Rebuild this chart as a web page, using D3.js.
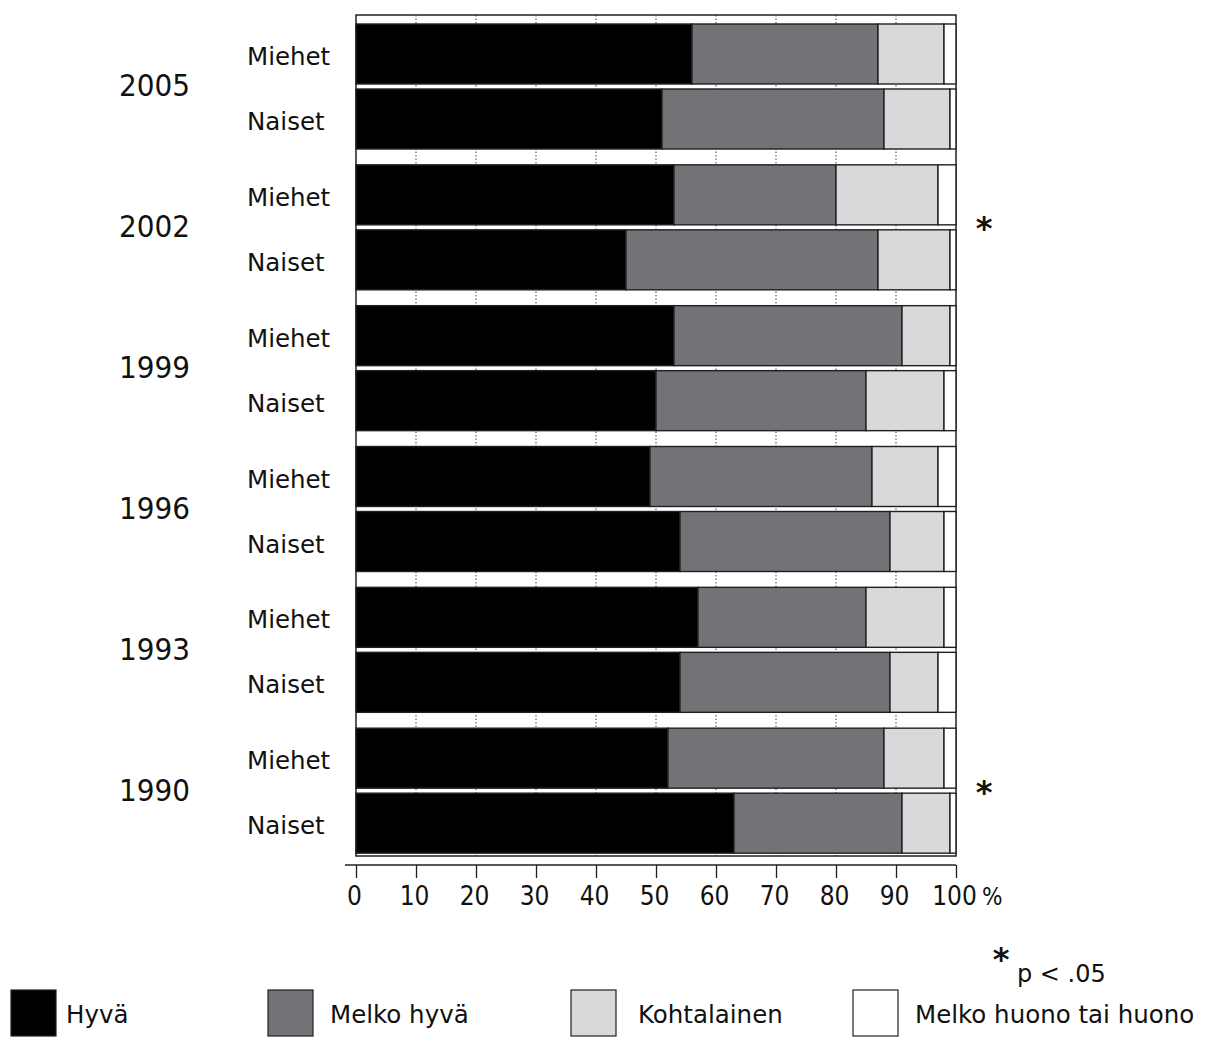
<!DOCTYPE html>
<html>
<head>
<meta charset="utf-8">
<script src="https://cdn.jsdelivr.net/npm/d3@7"></script>
<style>
  html, body { margin: 0; padding: 0; background: #fff; }
  svg { display: block; }
</style>
</head>
<body>
<svg id="chart" width="1210" height="1053"></svg>
<script>
// ---------- data ----------
const years = ["2005", "2002", "1999", "1996", "1993", "1990"];
const sexes = ["Miehet", "Naiset"];
const categories = ["Hyvä", "Melko hyvä", "Kohtalainen", "Melko huono tai huono"];
// values per bar, order: 2005 M, 2005 N, 2002 M, 2002 N, ... 1990 M, 1990 N
const hyva        = [56, 51, 53, 45, 53, 50, 49, 54, 57, 54, 52, 63];
const melkoHyva   = [31, 37, 27, 42, 38, 35, 37, 35, 28, 35, 36, 28];
const kohtalainen = [11, 11, 17, 12,  8, 13, 11,  9, 13,  8, 10,  8];
const huono       = [ 2,  1,  3,  1,  1,  2,  3,  2,  2,  3,  2,  1];
const significantYears = ["2002", "1990"];
const tickValues = [0, 10, 20, 30, 40, 50, 60, 70, 80, 90, 100];
const footnote = "p < .05";

// ---------- table ----------
const rows = [];
years.forEach((yr, i) => sexes.forEach((sx, j) => {
  const k = i * 2 + j;
  rows.push({ year: yr, sex: sx,
    "Hyvä": hyva[k], "Melko hyvä": melkoHyva[k],
    "Kohtalainen": kohtalainen[k], "Melko huono tai huono": huono[k] });
}));

const colors = d3.scaleOrdinal(categories, ["#000000", "#737276", "#d8d9db", "#ffffff"]);
const svg = d3.select("#chart");

const x = d3.scaleLinear([0, 100], [356, 956]);
const yGroup = d3.scaleBand(years, [17, 862]);
const ySex = d3.scaleBand(sexes, [7, 132]).paddingInner(5 / 65);
const frameTop = 15, frameBottom = 856;

// grid
svg.append("g").selectAll("line")
  .data(tickValues.filter(v => v > 0 && v < 100))
  .join("line")
  .attr("x1", d => x(d)).attr("x2", d => x(d))
  .attr("y1", frameTop).attr("y2", frameBottom)
  .attr("stroke", "#444").attr("stroke-width", 1)
  .attr("stroke-dasharray", "1.5,2");

// frame
svg.append("rect")
  .attr("x", x(0)).attr("y", frameTop)
  .attr("width", x(100) - x(0)).attr("height", frameBottom - frameTop)
  .attr("fill", "none").attr("stroke", "#231f20").attr("stroke-width", 1.5);

// stacked bars
const stack = d3.stack().keys(categories)(rows);
svg.append("g").selectAll("g")
  .data(stack).join("g")
  .attr("fill", d => colors(d.key))
  .selectAll("rect")
  .data(d => d).join("rect")
  .attr("x", d => x(d[0]))
  .attr("y", d => yGroup(d.data.year) + ySex(d.data.sex))
  .attr("width", d => x(d[1]) - x(d[0]))
  .attr("height", ySex.bandwidth())
  .attr("stroke", "#231f20").attr("stroke-width", 1.4);

// sex labels
svg.append("g").selectAll("text")
  .data(rows).join("text")
  .attr("x", 247)
  .attr("y", d => yGroup(d.year) + ySex(d.sex) + ySex.bandwidth() / 2 + 11)
  .attr("font-family", "DejaVu Sans").attr("font-size", 24.5)
  .attr("fill", "#111")
  .text(d => d.sex);

// year labels
svg.append("g").selectAll("text")
  .data(years).join("text")
  .attr("x", 119)
  .attr("y", d => yGroup(d) + yGroup.bandwidth() / 2 + 9)
  .attr("font-family", "DejaVu Sans Condensed").attr("font-size", 31)
  .attr("fill", "#111")
  .text(d => d);

// significance asterisks
svg.append("g").selectAll("text")
  .data(significantYears).join("text")
  .attr("x", 984)
  .attr("y", d => yGroup(d) + yGroup.bandwidth() / 2 + 11)
  .attr("text-anchor", "middle")
  .attr("font-family", "DejaVu Sans").attr("font-weight", "bold").attr("font-size", 32)
  .attr("fill", "#111")
  .text("*");

// x axis
const axisY = 865;
svg.append("line")
  .attr("x1", 345).attr("x2", x(100))
  .attr("y1", axisY).attr("y2", axisY)
  .attr("stroke", "#231f20").attr("stroke-width", 1.5);
const ax = svg.append("g")
  .attr("transform", `translate(0,${axisY})`)
  .call(d3.axisBottom(x).tickValues(tickValues).tickSize(13).tickSizeOuter(0).tickFormat(d3.format("d")));
ax.select(".domain").remove();
ax.selectAll(".tick line").attr("stroke", "#231f20").attr("stroke-width", 1.3);
ax.selectAll(".tick text")
  .attr("y", 40).attr("dy", 0).attr("dx", -2)
  .attr("font-family", "DejaVu Sans Condensed").attr("font-size", 26)
  .attr("fill", "#111");
svg.append("text")
  .attr("x", 982).attr("y", axisY + 40)
  .attr("font-family", "DejaVu Sans Condensed").attr("font-size", 24)
  .attr("fill", "#111").text("%");

// footnote
svg.append("text")
  .attr("x", 1001).attr("y", 970).attr("text-anchor", "middle")
  .attr("font-family", "DejaVu Sans").attr("font-weight", "bold").attr("font-size", 32)
  .attr("fill", "#111").text("*");
svg.append("text")
  .attr("x", 1017).attr("y", 982)
  .attr("font-family", "DejaVu Sans").attr("font-size", 24)
  .attr("fill", "#111").text(footnote);

// legend
const legendX = [11, 268, 571, 853];
const lg = svg.append("g").selectAll("g")
  .data(categories).join("g")
  .attr("transform", (d, i) => `translate(${legendX[i]},990)`);
lg.append("rect")
  .attr("width", 45).attr("height", 46)
  .attr("fill", d => colors(d))
  .attr("stroke", "#231f20").attr("stroke-width", 1.2);
lg.append("text")
  .attr("x", (d, i) => [55, 62, 67, 62][i]).attr("y", 33)
  .attr("font-family", "DejaVu Sans").attr("font-size", 24.5)
  .attr("fill", "#111").text(d => d);
</script>
</body>
</html>
